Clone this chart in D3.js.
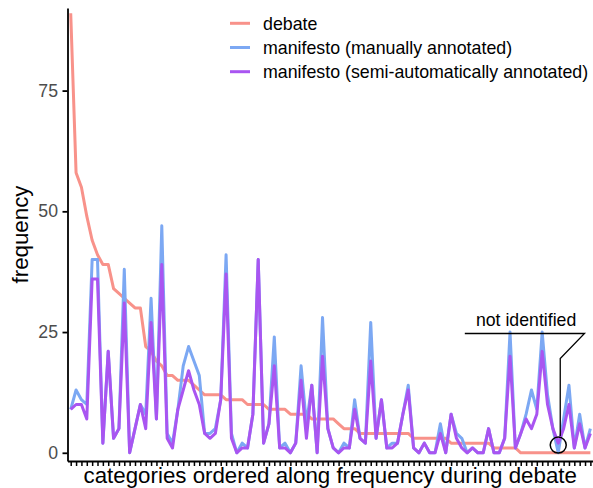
<!DOCTYPE html>
<html>
<head>
<meta charset="utf-8">
<script src="https://cdn.jsdelivr.net/npm/d3@7"></script>
<style>
  body { margin: 0; background: #fff; }
  text { font-family: "Liberation Sans", Arial, sans-serif; }
</style>
</head>
<body>
<div class="chart"></div>
<script>
// frequencies per category, ordered by debate frequency
const debate = [91, 58, 55, 49, 44, 41, 39, 39, 34, 33, 32, 31, 30, 30, 22, 21, 19, 18, 16, 16,
  15, 15, 15, 14, 13, 12, 12, 12, 12, 11, 11, 11, 11, 10, 10, 10, 10, 9, 9, 9,
  9, 8, 8, 8, 8, 7, 7, 7, 7, 7, 6, 5, 5, 5, 4, 4, 4, 4, 4, 4,
  4, 4, 4, 4, 3, 3, 3, 3, 3, 3, 3, 2, 2, 2, 2, 2, 2, 2, 2, 1,
  1, 1, 1, 1, 0, 0, 0, 0, 0, 0, 0, 0, 0, 0, 0, 0, 0, 0];
const manual = [9, 13, 11, 10, 40, 40, 2, 21, 3, 5, 38, 0, 5, 10, 8, 32, 7, 47, 4, 2,
  9, 18, 22, 19, 16, 4, 4, 5, 11, 41, 4, 0, 2, 1, 8, 40, 2, 6, 24, 1,
  2, 0, 2, 18, 6, 14, 0, 28, 5, 1, 0, 2, 1, 11, 3, 2, 27, 3, 11, 1,
  2, 2, 8, 14, 1, 0, 2, 0, 0, 6, 0, 8, 4, 3, 0, 1, 0, 0, 5, 0,
  0, 3, 25, 1, 4, 8, 13, 9, 25, 12, 5, 0, 7, 14, 1, 8, 1, 5];
const semi = [9, 10, 10, 7, 36, 36, 2, 21, 3, 5, 31, 0, 5, 10, 5, 27, 7, 39, 3, 1,
  9, 13, 17, 13, 10, 4, 3, 4, 11, 37, 3, 0, 1, 1, 8, 40, 2, 6, 18, 1,
  1, 0, 2, 15, 3, 14, 0, 20, 5, 1, 0, 1, 1, 9, 3, 2, 19, 3, 11, 1,
  1, 2, 8, 13, 1, 0, 2, 0, 0, 4, 0, 8, 3, 1, 0, 1, 0, 0, 5, 0,
  0, 3, 20, 1, 4, 7, 5, 8, 21, 10, 5, 2, 5, 10, 1, 6, 1, 4];
const categories = debate.map((d, i) => "category " + (i + 1));
const yTicks = [0, 25, 50, 75];
const seriesNames = ["debate", "manifesto (manually annotated)", "manifesto (semi-automatically annotated)"];
const seriesColors = ["#F8928A", "#7CA8F3", "#A955F1"];
const notIdentified = "category 92";

var width = 593, height = 488;
var panel = {left: 67.5, right: 593.6, top: 8, bottom: 461};

var svg = d3.select(".chart").append("svg")
    .attr("width", width)
    .attr("height", height);

var x = d3.scalePoint().domain(categories).range([panel.left, panel.right]).padding(0.6);
var y = d3.scaleLinear().domain([-1.7, 92.1]).range([panel.bottom, panel.top]);

// lines
var line = d3.line()
    .x(function(d, i) { return x(categories[i]); })
    .y(function(d) { return y(d); });

[debate, manual, semi].forEach(function(values, k) {
  svg.append("path")
      .datum(values)
      .attr("d", line)
      .style("fill", "none")
      .style("stroke", seriesColors[k])
      .style("stroke-width", 3)
      .style("stroke-linejoin", "round");
});

// y axis
var yAxis = svg.append("g")
    .attr("transform", "translate(" + panel.left + ",0)")
    .call(d3.axisLeft(y).tickValues(yTicks).tickSize(5).tickSizeOuter(0).tickPadding(4.5));
yAxis.select(".domain").attr("stroke", "#000").attr("stroke-width", 1.8);
yAxis.selectAll(".tick line").attr("stroke", "#000").attr("stroke-width", 1.8);
yAxis.selectAll(".tick text")
    .attr("fill", "#4D4D4D")
    .style("font-size", "17.7px")
    .style("font-family", "Liberation Sans, Arial, sans-serif");

// x axis
var xAxis = svg.append("g")
    .attr("transform", "translate(0," + panel.bottom + ")")
    .call(d3.axisBottom(x).tickSize(5).tickSizeOuter(0).tickFormat(""));
xAxis.select(".domain").attr("stroke", "#000").attr("stroke-width", 1.8);
xAxis.selectAll(".tick line").attr("stroke", "#000").attr("stroke-width", 1.5);

// axis titles
svg.append("text")
    .attr("x", (panel.left + 593) / 2)
    .attr("y", 483)
    .attr("text-anchor", "middle")
    .style("font-size", "22.3px")
    .text("categories ordered along frequency during debate");

svg.append("text")
    .attr("transform", "translate(28," + (panel.top + panel.bottom) / 2 + ") rotate(-90)")
    .attr("text-anchor", "middle")
    .style("font-size", "22.3px")
    .text("frequency");

// legend
var legend = svg.append("g");
seriesNames.forEach(function(name, k) {
  var ly = 23.3 + k * 24.2;
  legend.append("line")
      .attr("x1", 230).attr("x2", 250)
      .attr("y1", ly).attr("y2", ly)
      .style("stroke", seriesColors[k])
      .style("stroke-width", 3);
  legend.append("text")
      .attr("x", 263)
      .attr("y", ly + 6.5)
      .style("font-size", "17.8px")
      .text(name);
});

// annotation for the category that was not identified
var cx = x(notIdentified), cy = y(1.6);
svg.append("circle")
    .attr("cx", cx).attr("cy", cy).attr("r", 8)
    .style("fill", "none")
    .style("stroke", "#000")
    .style("stroke-width", 1.5);

svg.append("path")
    .attr("d", d3.line()([
      [x("category 74") + 3, y(24.7)],
      [x("category 97") - 0.5, y(24.7)],
      [cx + 2, y(19.5)],
      [cx + 2, cy - 9]
    ]))
    .style("fill", "none")
    .style("stroke", "#000")
    .style("stroke-width", 1.3);

svg.append("text")
    .attr("x", x("category 86"))
    .attr("y", y(26.3))
    .attr("text-anchor", "middle")
    .style("font-size", "17.7px")
    .text("not identified");
</script>
</body>
</html>
